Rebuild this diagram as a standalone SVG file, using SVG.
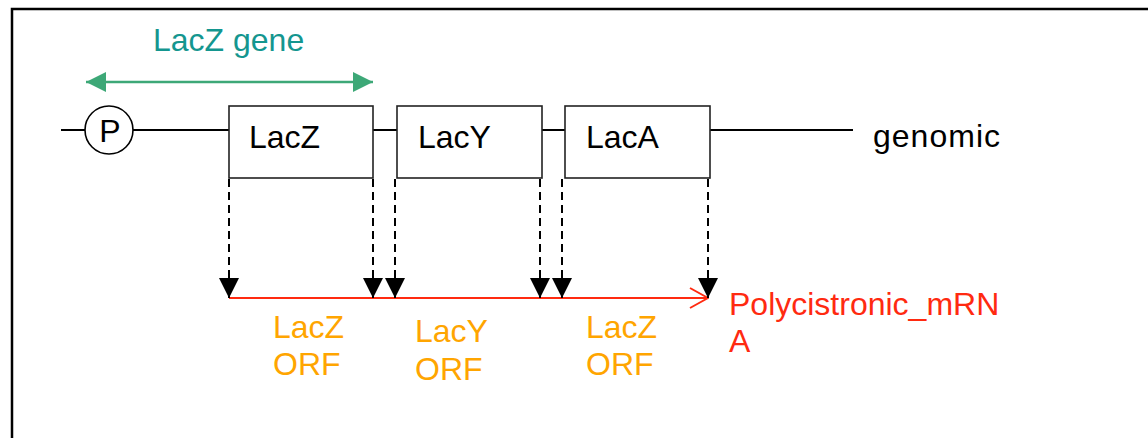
<svg xmlns="http://www.w3.org/2000/svg" width="1148" height="438" viewBox="0 0 1148 438">
<defs>
<style>
text{font-family:"Liberation Sans",Arial,sans-serif;font-size:32px}
.box{fill:#fff;stroke:#222;stroke-width:1.6}
.line{stroke:#000;stroke-width:2;fill:none}
.dash{stroke:#000;stroke-width:2;stroke-dasharray:8,5;fill:none}
.orf{fill:#FFA500}
</style>
<marker id="tri" viewBox="0 0 20 20" refX="20" refY="10" markerWidth="20" markerHeight="20" markerUnits="userSpaceOnUse" orient="auto">
<path d="M0,0 L20,10 L0,20 Z" fill="#000"/>
</marker>
<marker id="gtri" viewBox="0 0 20 20" refX="20" refY="10" markerWidth="20" markerHeight="20" markerUnits="userSpaceOnUse" orient="auto-start-reverse">
<path d="M0,0 L20,10 L0,20 Z" fill="#3DA877"/>
</marker>
<marker id="open" viewBox="0 0 20 22" refX="19" refY="11" markerWidth="20" markerHeight="22" markerUnits="userSpaceOnUse" orient="auto">
<path d="M1,1 L19,11 L1,21" fill="none" stroke="#FF2A10" stroke-width="2"/>
</marker>
</defs>
<rect width="1148" height="438" fill="#fff"/>
<path d="M12,438 V9 H1148" fill="none" stroke="#000" stroke-width="2.5"/>

<g id="connectors">
<line class="line" x1="61" y1="130" x2="85" y2="130"/>
<line class="line" x1="133" y1="130" x2="229" y2="130"/>
<line class="line" x1="373" y1="130" x2="397" y2="130"/>
<line class="line" x1="542" y1="130" x2="565" y2="130"/>
<line class="line" x1="710" y1="130" x2="853" y2="130"/>
<line x1="86" y1="82" x2="373" y2="82" stroke="#3DA877" stroke-width="2.5" marker-start="url(#gtri)" marker-end="url(#gtri)"/>
<line x1="229" y1="298" x2="708" y2="298" stroke="#FF2A10" stroke-width="2" marker-end="url(#open)"/>
<line class="dash" x1="229" y1="179" x2="229" y2="298" marker-end="url(#tri)"/>
<line class="dash" x1="373" y1="179" x2="373" y2="298" marker-end="url(#tri)"/>
<line class="dash" x1="395" y1="179" x2="395" y2="298" marker-end="url(#tri)"/>
<line class="dash" x1="540" y1="179" x2="540" y2="298" marker-end="url(#tri)"/>
<line class="dash" x1="562" y1="179" x2="562" y2="298" marker-end="url(#tri)"/>
<line class="dash" x1="708" y1="179" x2="708" y2="298" marker-end="url(#tri)"/>
</g>

<g id="promoter">
<circle cx="109" cy="130" r="24" fill="#fff" stroke="#000" stroke-width="1.6"/>
<text x="110" y="142" text-anchor="middle" font-size="32">P</text>
</g>
<g id="lacZ">
<rect class="box" x="229" y="106" width="144" height="72"/>
<text x="249" y="148">LacZ</text>
</g>
<g id="lacY">
<rect class="box" x="397" y="106" width="145" height="72"/>
<text x="418" y="148">LacY</text>
</g>
<g id="lacA">
<rect class="box" x="565" y="106" width="145" height="72"/>
<text x="586" y="148">LacA</text>
</g>
<g id="genomic">
<text x="873" y="147" textLength="127">genomic</text>
</g>
<g id="lacZgene">
<text x="153" y="51" fill="#14968F">LacZ<tspan x="233">gene</tspan></text>
</g>
<g id="orf1">
<text class="orf" x="273" y="338">LacZ</text>
<text class="orf" x="273" y="375">ORF</text>
</g>
<g id="orf2">
<text class="orf" x="415" y="342">LacY</text>
<text class="orf" x="415" y="380">ORF</text>
</g>
<g id="orf3">
<text class="orf" x="586" y="338">LacZ</text>
<text class="orf" x="586" y="375">ORF</text>
</g>
<g id="mrna">
<text x="729" y="315" fill="#FF2A10">Polycistronic_mRN</text>
<text x="729" y="352" fill="#FF2A10">A</text>
</g>
</svg>
